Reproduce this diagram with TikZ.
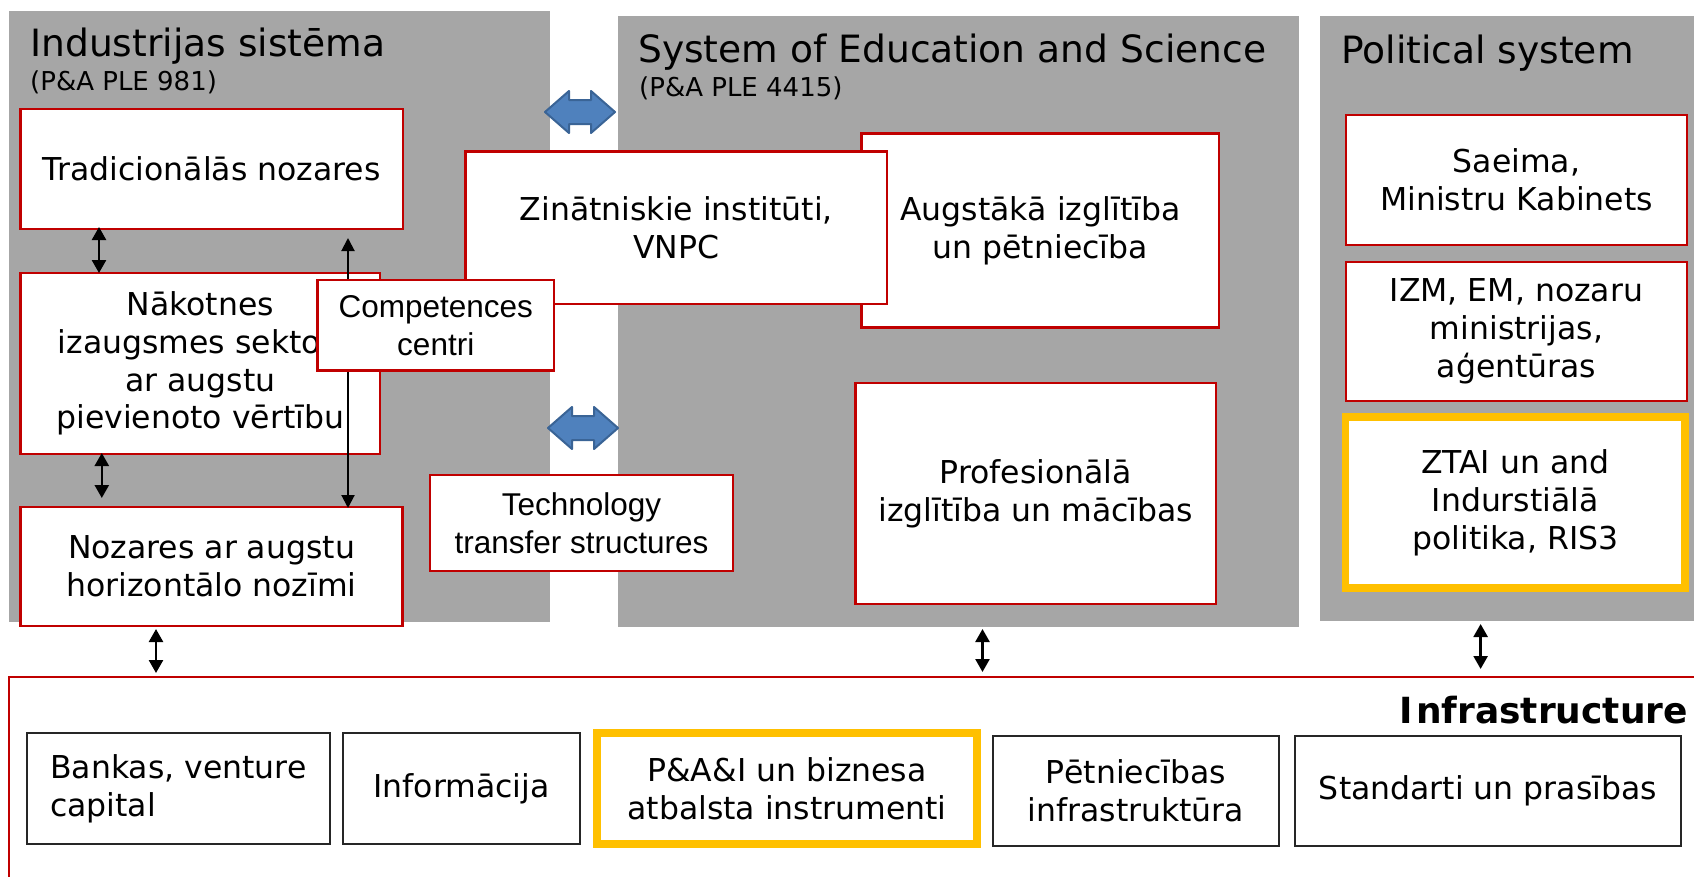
\documentclass[tikz,border=0pt]{standalone}
\usepackage{fontspec}
\setmainfont{DejaVu Sans}
\newfontfamily\arialf{Liberation Sans}
\usetikzlibrary{arrows.meta}
\definecolor{panelgray}{HTML}{A6A6A6}
\definecolor{boxred}{HTML}{C00000}
\definecolor{hiyellow}{HTML}{FFC000}
\definecolor{arrowblue}{HTML}{4F81BD}
\definecolor{arrowblueb}{HTML}{3A6496}
\newcommand\bodyfont{\fontsize{31.5}{37.8}\selectfont}
\newcommand\titlefont{\fontsize{37.6}{44}\selectfont}
\newcommand\subfont{\fontsize{26}{30}\selectfont}
\newcommand\bluedbl[2]{\filldraw[bluearr] (#1-35,#2) -- (#1-11,#2-21) -- (#1-11,#2-12) -- (#1+11,#2-12) -- (#1+11,#2-21) -- (#1+35,#2) -- (#1+11,#2+21) -- (#1+11,#2+12) -- (#1-11,#2+12) -- (#1-11,#2+21) -- cycle;}
\begin{document}
\begin{tikzpicture}[x=1pt,y=-1pt,
  panel/.style={fill=panelgray, draw=none, anchor=north west, inner sep=0pt, outer sep=0pt},
  title/.style={anchor=base west, inner sep=0pt, font=\titlefont},
  subtitle/.style={anchor=base west, inner sep=0pt, font=\subfont},
  redbox/.style={draw=boxred, line width=2.5pt, fill=white, anchor=north west, inner sep=0pt, outer sep=0pt, align=center, font=\bodyfont},
  blkbox/.style={draw=black!85, line width=2pt, fill=white, anchor=north west, inner sep=0pt, outer sep=0pt, align=center, font=\bodyfont},
  ylwbox/.style={draw=hiyellow, line width=7.5pt, fill=white, anchor=north west, inner sep=0pt, outer sep=0pt, align=center, font=\bodyfont},
  dblarr/.style={line width=2.5pt, {Triangle[width=14pt,length=13pt]}-{Triangle[width=14pt,length=13pt]}},
  bluearr/.style={fill=arrowblue, draw=arrowblueb, line width=2pt, line join=round}
]
\clip (0,0) rectangle (1694,876);
\fill[white] (0,0) rectangle (1694,876);
% panels
\node[panel, minimum width=541pt, minimum height=611pt] (p1) at (9,11) {};
\node[panel, minimum width=681pt, minimum height=611pt] (p2) at (618,16) {};
\node[panel, minimum width=380pt, minimum height=605pt] (p3) at (1320,16) {};
\node[title] (t1) at (30,56.7) {Industrijas sistēma};
\node[subtitle] (s1) at (30,90.7) {(P\&A PLE 981)};
\node[title] (t2) at (638,62.7) {System of Education and Science};
\node[subtitle] (s2) at (639,96.7) {(P\&A PLE 4415)};
\node[title] (t3) at (1341,63.3) {Political system};
% blue double arrows
\bluedbl{580}{112}
\bluedbl{583}{428}
% industry boxes
\node[redbox, minimum width=382.5pt, minimum height=120pt] (trad) at (20.5,109) {Tradicionālās nozares};
\node[redbox, minimum width=359.5pt, minimum height=181pt] (nak) at (20.5,273) {Nākotnes\\izaugsmes sektori\\ar augstu\\pievienoto vērtību};
\node[redbox, minimum width=382pt, minimum height=119pt] (noz) at (20.5,507) {Nozares ar augstu\\horizontālo nozīmi};
\draw[line width=2pt, {Triangle[width=13pt,length=13pt]}-{Triangle[width=13pt,length=13pt]}] ([xshift=327.5pt,yshift=-9pt]trad.south west) -- ([xshift=327.5pt,yshift=-1pt]noz.north west);
% education boxes
\node[redbox, minimum width=357.5pt, minimum height=194pt] (aug) at (861.5,133.7) {Augstākā izglītība\\un pētniecība};
\node[redbox, minimum width=421.5pt, minimum height=152.5pt] (zin) at (465.5,151.5) {Zinātniskie institūti,\\VNPC};
\node[redbox, minimum width=236.5pt, minimum height=90.7pt, font=\arialf\bodyfont] (comp) at (317.5,280) {Competences\\centri};
\node[redbox, minimum width=303pt, minimum height=96pt, font=\arialf\bodyfont] (tech) at (430,475) {Technology\\transfer structures};
\node[redbox, minimum width=360.3pt, minimum height=221pt] (prof) at (855.7,383) {Profesionālā\\izglītība un mācības};
% political boxes
\node[redbox, minimum width=341pt, minimum height=130pt] (saeima) at (1346,115) {Saeima,\\Ministru Kabinets};
\node[redbox, minimum width=341pt, minimum height=139pt] (izm) at (1346,262) {IZM, EM, nozaru\\ministrijas,\\aģentūras};
\node[ylwbox, minimum width=339.5pt, minimum height=171pt] (ztai) at (1345.5,417) {ZTAI un and\\Indurstiālā\\politika, RIS3};
% infrastructure
\node[redbox, minimum width=1700pt, minimum height=250pt] (infra) at (9,677) {};
\node[anchor=base east, inner sep=0pt, font=\fontsize{36}{40}\selectfont\bfseries] (inftitle) at (1688,723) {I\kern3pt nfrastructure};
\node[blkbox, minimum width=303pt, minimum height=111pt, align=left] (bank) at (26.8,733) {Bankas, venture\\capital};
\node[blkbox, minimum width=237pt, minimum height=111pt] (info) at (343,733) {Informācija};
\node[ylwbox, minimum width=380pt, minimum height=111pt] (paai) at (597,733) {P\&A\&I un biznesa\\atbalsta instrumenti};
\node[blkbox, minimum width=286pt, minimum height=110.3pt] (pet) at (992.8,735.7) {Pētniecības\\infrastruktūra};
\node[blkbox, minimum width=386pt, minimum height=110.3pt] (std) at (1295,735.7) {Standarti un prasības};
% connectors
\draw[dblarr] ([xshift=78.5pt,yshift=2pt]trad.south west) -- ([xshift=78.5pt]nak.north west);
\draw[dblarr] ([xshift=81.3pt,yshift=1pt]nak.south west) -- ([xshift=81.3pt,yshift=9pt]noz.north west);
\draw[dblarr] ([xshift=147pt,yshift=-7pt]p1.south west) -- ([xshift=147pt,yshift=4pt]infra.north west);
\draw[dblarr] ([xshift=364.5pt,yshift=-2pt]p2.south west) -- ([xshift=364.5pt,yshift=5pt]infra.north west -| p2.south west);
\draw[dblarr] ([xshift=160.6pt,yshift=-3pt]p3.south west) -- ([xshift=160.6pt,yshift=8pt]infra.north west -| p3.south west);
\end{tikzpicture}
\end{document}
